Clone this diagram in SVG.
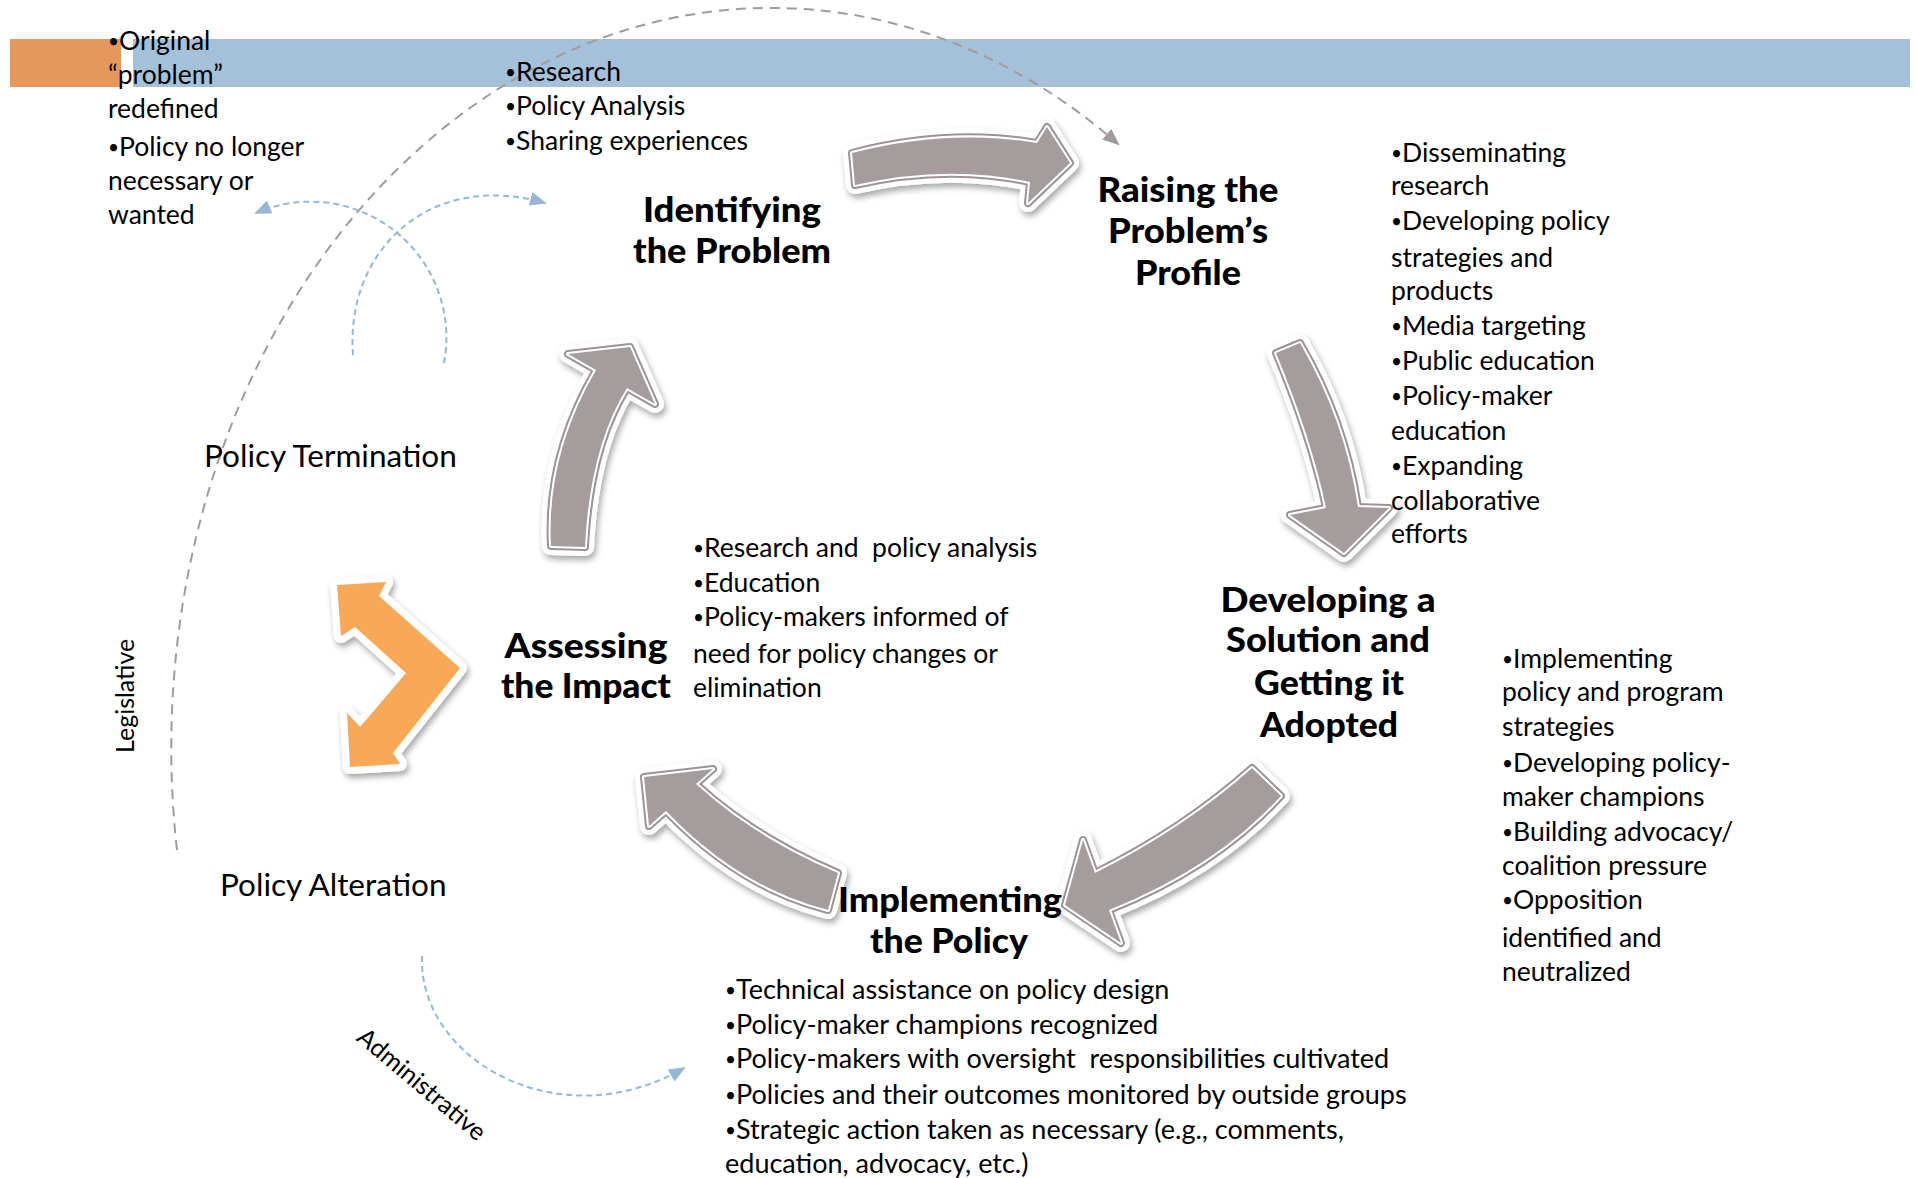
<svg xmlns="http://www.w3.org/2000/svg" width="1917" height="1178" viewBox="0 0 1917 1178">
  <defs>
    <style>
      .body{font-family:Lato,"Liberation Sans",sans-serif;font-size:26.5px;fill:#000}
      .wide{font-size:27px}
      .bl{font-size:19px;baseline-shift:2px}
      .head{font-family:Lato,"Liberation Sans",sans-serif;font-size:34px;font-weight:900;fill:#000;text-anchor:middle}
      .side{font-family:Lato,"Liberation Sans",sans-serif;font-size:31.5px;fill:#000}
      .axis{font-family:Lato,"Liberation Sans",sans-serif;font-size:25px;fill:#000}
      .dash-g{fill:none;stroke:#a39b9b;stroke-width:2;stroke-dasharray:10 7}
      .dash-b{fill:none;stroke:#97b7d7;stroke-width:2;stroke-dasharray:6 4}
      .ow{fill:none;stroke:#fff;stroke-width:18;stroke-linejoin:round}
      .og{fill:none;stroke:#9c9494;stroke-width:8;stroke-linejoin:round}
      .iw{fill:none;stroke:#fff;stroke-width:4;stroke-linejoin:round}
      .gf{fill:#a59d9d}
      .orw{fill:none;stroke:#fff;stroke-width:14;stroke-linejoin:round}
      .orf{fill:#f9a857}
    </style>
    <filter id="sh" x="-30%" y="-30%" width="160%" height="160%">
      <feDropShadow dx="2" dy="4" stdDeviation="3" flood-color="#000" flood-opacity="0.35"/>
    </filter>
    <marker id="mb" markerUnits="userSpaceOnUse" markerWidth="18" markerHeight="14" refX="15" refY="7" orient="auto">
      <path d="M0,0 L17,7 L0,14 z" fill="#97b7d7"/>
    </marker>
    <marker id="mg" markerUnits="userSpaceOnUse" markerWidth="18" markerHeight="14" refX="15" refY="7" orient="auto">
      <path d="M0,0 L17,7 L0,14 z" fill="#a39b9b"/>
    </marker>
    <!-- curved block arrows of the cycle -->
    <path id="a1" d="M852,153 Q947,128 1037,143 L1047,127 L1070,163 L1028,203 L1030,182 Q947,164 855,185 Z"/>
    <path id="a2" d="M1276,353 Q1312,440 1326,508 L1290,515 L1344,553 L1389,508 L1358,507 Q1345,420 1300,343 Z"/>
    <path id="a3" d="M1252,768 Q1185,828 1095,873 L1083,840 L1065,905 L1121,943 L1109,910 Q1215,868 1281,796 Z"/>
    <path id="a4" d="M838,873 Q755,838 696,784 L713,769 L644,777 L649,826 L666,811 Q740,888 828,910 Z"/>
    <path id="a5" d="M551,546 Q546,456 596,370 L568,354 L630,347 L655,404 L627,388 Q590,447 585,547 Z"/>
    <path id="chev" d="M337,585 L386,582 L379,596 L460,668 L393,753 L400,764 L350,767 L347,713 L360,727 L406,673 L355,627 L341,636 Z"/>
  </defs>

  <rect width="1917" height="1178" fill="#fff"/>

  <!-- header band -->
  <g id="header-band">
    <rect x="10" y="39" width="111" height="48" fill="#e6975c"/>
    <rect x="133" y="39" width="1777" height="48" fill="#a5c1d9"/>
  </g>

  <!-- connectors: cycle arrows and dashed feedback paths -->
  <g id="connectors">
    <g filter="url(#sh)"><use href="#a1" class="ow"/><use href="#a1" class="og"/><use href="#a1" class="iw"/><use href="#a1" class="gf"/></g>
    <g filter="url(#sh)"><use href="#a2" class="ow"/><use href="#a2" class="og"/><use href="#a2" class="iw"/><use href="#a2" class="gf"/></g>
    <g filter="url(#sh)"><use href="#a3" class="ow"/><use href="#a3" class="og"/><use href="#a3" class="iw"/><use href="#a3" class="gf"/></g>
    <g filter="url(#sh)"><use href="#a4" class="ow"/><use href="#a4" class="og"/><use href="#a4" class="iw"/><use href="#a4" class="gf"/></g>
    <g filter="url(#sh)"><use href="#a5" class="ow"/><use href="#a5" class="og"/><use href="#a5" class="iw"/><use href="#a5" class="gf"/></g>
    <g filter="url(#sh)"><use href="#chev" class="orw"/><use href="#chev" class="orf"/></g>

    <path class="dash-g" d="M177,850 A600,740 0 0 1 1118,144" marker-end="url(#mg)"/>
    <path class="dash-b" d="M444,363 A136,136 0 0 0 256,213" marker-end="url(#mb)"/>
    <path class="dash-b" d="M353,355 C345,250 430,170 545,203" marker-end="url(#mb)"/>
    <path class="dash-b" d="M422,956 C418,1060 560,1140 684,1068" marker-end="url(#mb)"/>
  </g>

  <!-- stages -->
  <g id="node-identifying">
    <text class="head"><tspan x="732" y="222" textLength="178" lengthAdjust="spacingAndGlyphs">Identifying</tspan><tspan x="732" y="263" textLength="198" lengthAdjust="spacingAndGlyphs">the Problem</tspan></text>
    <text class="body"><tspan x="505" y="81"><tspan class="bl">•</tspan>Research</tspan><tspan x="505" y="115"><tspan class="bl">•</tspan>Policy Analysis</tspan><tspan x="505" y="150"><tspan class="bl">•</tspan>Sharing experiences</tspan></text>
  </g>

  <g id="node-raising">
    <text class="head"><tspan x="1188" y="202" textLength="181" lengthAdjust="spacingAndGlyphs">Raising the</tspan><tspan x="1188" y="243" textLength="160" lengthAdjust="spacingAndGlyphs">Problem’s</tspan><tspan x="1188" y="285" textLength="106" lengthAdjust="spacingAndGlyphs">Profile</tspan></text>
    <text class="body">
      <tspan x="1391" y="162"><tspan class="bl">•</tspan>Disseminating</tspan>
      <tspan x="1391" y="195">research</tspan>
      <tspan x="1391" y="230"><tspan class="bl">•</tspan>Developing policy</tspan>
      <tspan x="1391" y="267">strategies and</tspan>
      <tspan x="1391" y="300">products</tspan>
      <tspan x="1391" y="335"><tspan class="bl">•</tspan>Media targeting</tspan>
      <tspan x="1391" y="370"><tspan class="bl">•</tspan>Public education</tspan>
      <tspan x="1391" y="405"><tspan class="bl">•</tspan>Policy-maker</tspan>
      <tspan x="1391" y="440">education</tspan>
      <tspan x="1391" y="475"><tspan class="bl">•</tspan>Expanding</tspan>
      <tspan x="1391" y="510">collaborative</tspan>
      <tspan x="1391" y="543">efforts</tspan>
    </text>
  </g>

  <g id="node-developing">
    <text class="head"><tspan x="1328" y="612" textLength="215" lengthAdjust="spacingAndGlyphs">Developing a</tspan><tspan x="1328" y="652" textLength="204" lengthAdjust="spacingAndGlyphs">Solution and</tspan><tspan x="1329" y="695" textLength="150" lengthAdjust="spacingAndGlyphs">Getting it</tspan><tspan x="1329" y="737" textLength="138" lengthAdjust="spacingAndGlyphs">Adopted</tspan></text>
    <text class="body">
      <tspan x="1502" y="668"><tspan class="bl">•</tspan>Implementing</tspan>
      <tspan x="1502" y="701">policy and program</tspan>
      <tspan x="1502" y="736">strategies</tspan>
      <tspan x="1502" y="772"><tspan class="bl">•</tspan>Developing policy-</tspan>
      <tspan x="1502" y="806">maker champions</tspan>
      <tspan x="1502" y="841"><tspan class="bl">•</tspan>Building advocacy/</tspan>
      <tspan x="1502" y="875">coalition pressure</tspan>
      <tspan x="1502" y="909"><tspan class="bl">•</tspan>Opposition</tspan>
      <tspan x="1502" y="947">identified and</tspan>
      <tspan x="1502" y="981">neutralized</tspan>
    </text>
  </g>

  <g id="node-implementing">
    <text class="head"><tspan x="950" y="912" textLength="224" lengthAdjust="spacingAndGlyphs">Implementing</tspan><tspan x="949" y="953" textLength="158" lengthAdjust="spacingAndGlyphs">the Policy</tspan></text>
    <text class="body wide" xml:space="preserve"><tspan x="725" y="999"><tspan class="bl">•</tspan>Technical assistance on policy design</tspan><tspan x="725" y="1034"><tspan class="bl">•</tspan>Policy-maker champions recognized</tspan><tspan x="725" y="1068"><tspan class="bl">•</tspan>Policy-makers with oversight  responsibilities cultivated</tspan><tspan x="725" y="1104"><tspan class="bl">•</tspan>Policies and their outcomes monitored by outside groups</tspan><tspan x="725" y="1139"><tspan class="bl">•</tspan>Strategic action taken as necessary (e.g., comments,</tspan><tspan x="725" y="1173">education, advocacy, etc.)</tspan></text>
  </g>

  <g id="node-assessing">
    <text class="head"><tspan x="586" y="658" textLength="163" lengthAdjust="spacingAndGlyphs">Assessing</tspan><tspan x="586" y="698" textLength="170" lengthAdjust="spacingAndGlyphs">the Impact</tspan></text>
    <text class="body" xml:space="preserve"><tspan x="693" y="557"><tspan class="bl">•</tspan>Research and  policy analysis</tspan><tspan x="693" y="592"><tspan class="bl">•</tspan>Education</tspan><tspan x="693" y="626"><tspan class="bl">•</tspan>Policy-makers informed of</tspan><tspan x="693" y="663">need for policy changes or</tspan><tspan x="693" y="697">elimination</tspan></text>
  </g>

  <g id="node-termination">
    <text class="side" x="204" y="467">Policy Termination</text>
    <text class="body">
      <tspan x="108" y="50"><tspan class="bl">•</tspan>Original</tspan>
      <tspan x="108" y="84">“problem”</tspan>
      <tspan x="108" y="118">redefined</tspan>
      <tspan x="108" y="156"><tspan class="bl">•</tspan>Policy no longer</tspan>
      <tspan x="108" y="190">necessary or</tspan>
      <tspan x="108" y="224">wanted</tspan>
    </text>
  </g>

  <g id="node-alteration">
    <text class="side" x="220" y="896">Policy Alteration</text>
  </g>

  <g id="route-labels">
    <text class="axis" transform="translate(134,753) rotate(-90)">Legislative</text>
    <text class="axis" transform="translate(422,1084) rotate(40)" text-anchor="middle" y="9">Administrative</text>
  </g>
</svg>
